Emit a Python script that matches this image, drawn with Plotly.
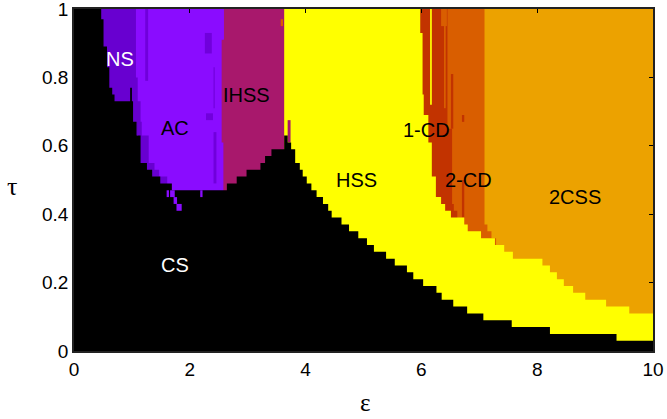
import plotly.graph_objects as go

# ---------------- colours of the regimes ----------------
COL = {
    "CS": "#000000", "NS": "#6800D0", "AC": "#8A0CFF", "ACd": "#7000DC",
    "IHSS": "#A8186C", "HSS": "#FFFF00", "1-CD": "#C23300",
    "2-CD": "#D95E00", "2CSS": "#ECA200",
}

# ---------------- region boundaries ----------------
# CS (black) upper boundary, left part: horizontal bands (tau breaks, eps right edge)
cs_band_tau = [1.00, 0.97, 0.89, 0.83, 0.77, 0.75, 0.73, 0.67, 0.63, 0.55, 0.53, 0.51, 0.49, 0.47]
cs_band_eps = [0.47, 0.51, 0.57, 0.61, 0.66, 0.70, 1.02, 1.09, 1.15, 1.26, 1.35, 1.49, 1.69]
# CS upper boundary, right part: columns (eps start, tau level)
cs_col_eps = [1.69, 2.64, 2.81, 2.98, 3.22, 3.30, 3.41, 3.63, 3.69, 3.75,
              3.82, 3.90, 3.95, 4.02, 4.10, 4.19, 4.30, 4.39, 4.45, 4.62,
              4.75, 4.91, 5.06, 5.18, 5.39, 5.54, 5.75, 5.86, 6.03, 6.26,
              6.35, 6.55, 6.79, 7.07, 7.56, 8.22, 9.37, 10.0]
cs_col_tau = [0.47, 0.49, 0.51, 0.53, 0.55, 0.57, 0.59, 0.63, 0.61, 0.59,
              0.55, 0.53, 0.51, 0.49, 0.47, 0.45, 0.43, 0.41, 0.39, 0.37,
              0.35, 0.33, 0.31, 0.29, 0.27, 0.25, 0.23, 0.21, 0.19, 0.17,
              0.15, 0.13, 0.11, 0.09, 0.07, 0.05, 0.03]

# right edges of the other regimes: tau breaks and eps of the edge in each band
ns_edge_tau = [1.00, 0.80, 0.73, 0.67, 0.63, 0.55, 0.53, 0.51, 0.00]
ns_edge_eps = [1.07, 1.10, 1.15, 1.17, 1.29, 1.39, 1.47, 1.61]
ac_edge_tau = [1.00, 0.91, 0.61, 0.00]
ac_edge_eps = [2.59, 2.55, 2.58]
ihss_edge_tau = [1.00, 0.00]
ihss_edge_eps = [3.63]
hss_edge_tau = [1.00, 0.93, 0.75, 0.69, 0.61, 0.51, 0.45, 0.43, 0.41, 0.39,
                0.37, 0.35, 0.33, 0.31, 0.29, 0.27, 0.25, 0.23, 0.21, 0.19,
                0.17, 0.15, 0.13, 0.11, 0.00]
hss_edge_eps = [5.98, 6.02, 6.04, 6.12, 6.18, 6.25, 6.34, 6.41, 6.51, 6.74,
                6.80, 7.03, 7.27, 7.43, 7.58, 8.09, 8.22, 8.34, 8.46, 8.62,
                8.83, 9.19, 9.59, 10.0]
cd1_edge_tau = [1.00, 0.65, 0.43, 0.41, 0.00]
cd1_edge_eps = [6.45, 6.53, 6.56, 6.62]
cd2_edge_tau = [1.00, 0.37, 0.35, 0.33, 0.00]
cd2_edge_eps = [7.09, 7.14, 7.21, 7.29]

# left start of each layered region (hidden under earlier-painted regions)
region_left = {"2-CD": 5.5, "1-CD": 5.5, "HSS": 3.0, "IHSS": 2.3, "AC": 0.5, "NS": 0.0}

# small patches: eps0, eps1, tau0, tau1, regime, layer after which they are drawn
patch_e0 = [6.39, 6.34, 6.51, 6.70, 6.70, 6.15, 3.69, 3.57, 1.23, 2.26, 2.28, 2.41, 2.41]
patch_e1 = [6.42, 6.44, 6.55, 6.74, 6.74, 6.18, 3.74, 3.61, 1.28, 2.38, 2.40, 2.46, 2.43]
patch_t0 = [0.71, 0.95, 0.65, 0.39, 0.67, 0.72, 0.61, 0.95, 0.79, 0.87, 0.675, 0.49, 0.71]
patch_t1 = [1.00, 1.00, 0.81, 0.50, 0.69, 1.00, 0.675, 0.97, 1.00, 0.93, 0.695, 0.64, 0.83]
patch_reg = ["2-CD", "2-CD", "1-CD", "1-CD", "1-CD", "HSS", "IHSS", "2-CD",
             "ACd", "ACd", "ACd", "ACd", "ACd"]
patch_layer = ["1-CD", "1-CD", "1-CD", "1-CD", "1-CD", "HSS", "IHSS", "IHSS",
               "AC", "AC", "AC", "AC", "AC"]
# patches drawn over the CS region (drips)
drip_e0 = [0.97, 1.08, 1.60, 1.66, 1.72, 1.77, 2.18]
drip_e1 = [1.00, 1.10, 1.64, 1.74, 1.78, 1.86, 2.22]
drip_t0 = [0.675, 0.63, 0.45, 0.45, 0.43, 0.41, 0.45]
drip_t1 = [0.77, 0.675, 0.47, 0.47, 0.45, 0.43, 0.47]
drip_reg = ["CS", "NS", "AC", "AC", "AC", "AC", "AC"]

# region labels
lab_text = ["NS", "AC", "IHSS", "HSS", "1-CD", "2-CD", "2CSS", "CS"]
lab_eps = [0.80, 1.74, 2.98, 4.88, 6.09, 6.81, 8.65, 1.74]
lab_tau = [0.853, 0.651, 0.749, 0.50, 0.646, 0.50, 0.451, 0.251]
lab_col = ["white", "black", "black", "black", "black", "black", "black", "white"]

xticks = [0, 2, 4, 6, 8, 10]
yticks = [0, 0.2, 0.4, 0.6, 0.8, 1]


# ---------------- helpers ----------------
def edge_polygon(left, taus, eps):
    xs, ys = [left], [taus[0]]
    for i, e in enumerate(eps):
        xs += [e, e]
        ys += [taus[i], taus[i + 1]]
    xs.append(left)
    ys.append(taus[-1])
    return xs, ys


def add_poly(fig, xs, ys, reg):
    fig.add_trace(go.Scatter(x=xs, y=ys, fill="toself", fillcolor=COL[reg],
                             mode="lines", line=dict(width=0), name=reg,
                             hoverinfo="name", showlegend=False))


def add_patches(fig, layer):
    for a, b, c, d, r, l in zip(patch_e0, patch_e1, patch_t0, patch_t1, patch_reg, patch_layer):
        if l == layer:
            add_poly(fig, [a, b, b, a, a], [c, c, d, d, c], r)


fig = go.Figure()
# background regime 2CSS
add_poly(fig, [0, 10, 10, 0, 0], [0, 0, 1, 1, 0], "2CSS")
layers = [("2-CD", cd2_edge_tau, cd2_edge_eps),
          ("1-CD", cd1_edge_tau, cd1_edge_eps),
          ("HSS", hss_edge_tau, hss_edge_eps),
          ("IHSS", ihss_edge_tau, ihss_edge_eps),
          ("AC", ac_edge_tau, ac_edge_eps),
          ("NS", ns_edge_tau, ns_edge_eps)]
for reg, taus, eps in layers:
    xs, ys = edge_polygon(region_left[reg], taus, eps)
    add_poly(fig, xs, ys, reg)
    add_patches(fig, reg)

# CS region (black), painted on top
cx, cy = [0, 0], [0, 1]
for i, e in enumerate(cs_band_eps):
    cx += [e, e]
    cy += [cs_band_tau[i], cs_band_tau[i + 1]]
for i, t in enumerate(cs_col_tau):
    cx += [cs_col_eps[i], cs_col_eps[i + 1]]
    cy += [t, t]
cx += [10, 0]
cy += [0, 0]
add_poly(fig, cx, cy, "CS")
for a, b, c, d, r in zip(drip_e0, drip_e1, drip_t0, drip_t1, drip_reg):
    add_poly(fig, [a, b, b, a, a], [c, c, d, d, c], r)

for t, e, ta, c in zip(lab_text, lab_eps, lab_tau, lab_col):
    fig.add_annotation(x=e, y=ta, text=t, showarrow=False,
                       font=dict(family="Liberation Sans, Arial", size=20, color=c))

fig.add_annotation(xref="paper", yref="paper", x=0.503, y=-0.15, text="ε",
                   xanchor="center", yanchor="middle", showarrow=False,
                   font=dict(family="Liberation Serif", size=25, color="black"))
fig.add_annotation(xref="paper", yref="paper", x=-0.107, y=0.48, text="τ",
                   xanchor="center", yanchor="middle", showarrow=False,
                   font=dict(family="Liberation Serif", size=26, color="black"))

axis_common = dict(showgrid=False, zeroline=False, showline=True, linecolor="#222222",
                   linewidth=1.5, mirror="allticks", ticks="inside", ticklen=4,
                   tickcolor="black", automargin=False, ticklabeloverflow="allow",
                   tickfont=dict(family="Liberation Sans, Arial", size=19, color="black"))
fig.update_xaxes(range=[0, 10], tickvals=xticks, **axis_common)
fig.update_yaxes(range=[0, 1], tickvals=yticks, **axis_common)
fig.update_layout(width=667, height=419, margin=dict(l=74, r=14, t=9, b=68),
                  plot_bgcolor="white", paper_bgcolor="white", showlegend=False)

fig.write_html("out.html")
